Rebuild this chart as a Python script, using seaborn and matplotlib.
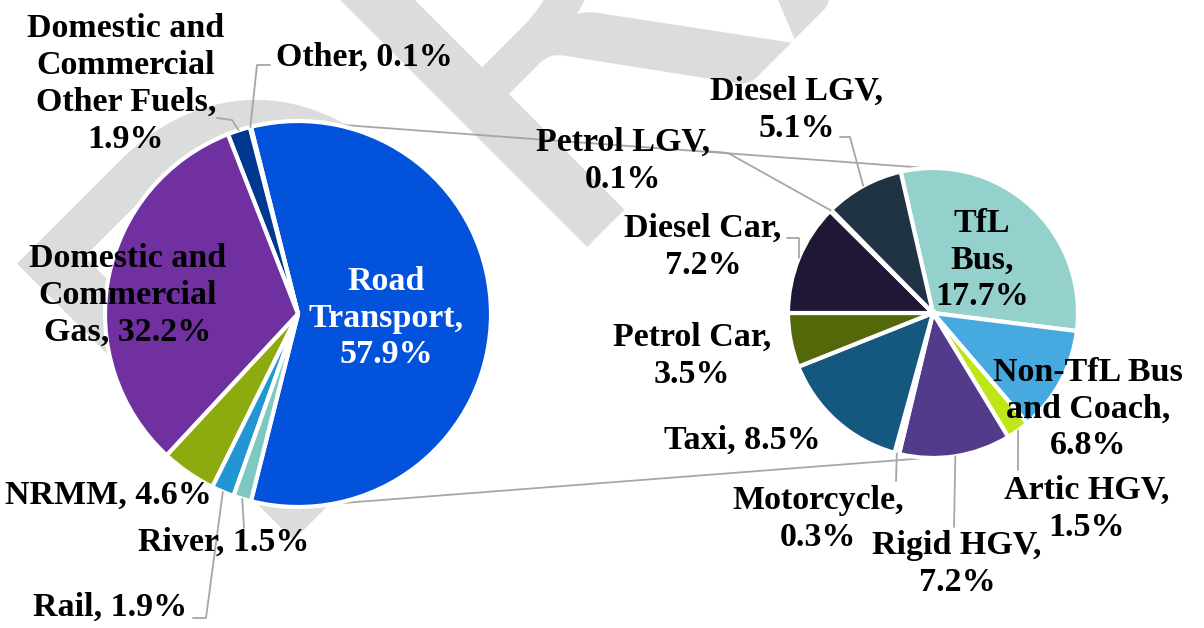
import matplotlib
matplotlib.use("Agg")
import matplotlib.pyplot as plt
import numpy as np
import seaborn as sns

# London emissions split (%), main pie
main_names = ["Road\nTransport", "Other", "Domestic and\nCommercial\nOther Fuels",
              "Domestic and\nCommercial\nGas", "NRMM", "Rail", "River"]
main_values = [57.9, 0.1, 1.9, 32.2, 4.6, 1.9, 1.5]
main_seps = [",\n", ", ", ",\n", ", ", ", ", ", ", ", "]
main_colors = ["#0352DC", "#1F4E79", "#00388F", "#7030A0", "#8DAB0F", "#2196D3", "#7DC8C0"]

# breakdown of road transport (%), secondary pie
road_names = ["TfL\nBus", "Non-TfL Bus\nand Coach", "Artic HGV", "Rigid HGV", "Motorcycle",
              "Taxi", "Petrol Car", "Diesel Car", "Petrol LGV", "Diesel LGV"]
road_values = [17.7, 6.8, 1.5, 7.2, 0.3, 8.5, 3.5, 7.2, 0.1, 5.1]
road_seps = [",\n", ",\n", ",\n", ",\n", ",\n", ", ", ",\n", ",\n", ",\n", ",\n"]
road_colors = ["#94D1CC", "#46AAE1", "#BFE616", "#523B8A", "#A6A6A6",
               "#14587F", "#536808", "#201736", "#7F7F7F", "#203344"]

W, H = 1204, 628
def px(x, y):
    # picture coords (origin top-left) -> data coords
    return x, H - y

sns.set_theme(style="white")
plt.rcParams["font.family"] = ["Liberation Serif", "DejaVu Serif"]

fig = plt.figure(figsize=(W / 100, H / 100), dpi=100)
ax = fig.add_axes([0, 0, 1, 1])

# DRAFT watermark
ax.text(*px(244, 540), "DRAFT", rotation=45, rotation_mode="anchor", ha="left", va="baseline",
        fontsize=393, color="#DCDCDC", family=["Lato", "DejaVu Sans"], fontweight="normal", zorder=0)

wedge_kw = dict(edgecolor="white", linewidth=3)
left_wedges, _ = ax.pie(main_values, colors=sns.color_palette(main_colors), center=px(298, 314),
                        radius=193, startangle=-main_values[0] / sum(main_values) * 180,
                        counterclock=True, wedgeprops=wedge_kw)
right_wedges, _ = ax.pie(road_values, colors=sns.color_palette(road_colors), center=px(933, 313),
                         radius=145, startangle=102.9, counterclock=False, wedgeprops=wedge_kw)

def edge_point(wedge, ang=None):
    if ang is None:
        ang = (wedge.theta1 + wedge.theta2) / 2
    cx, cy = wedge.center
    a = np.deg2rad(ang)
    return cx + wedge.r * np.cos(a), cy + wedge.r * np.sin(a)

grey = "#A6A6A6"
# connector lines between the pies
for la, ra in [(79.5, 92), (-79.5, -92)]:
    p1 = edge_point(left_wedges[0], la)
    p2 = edge_point(right_wedges[0], ra)
    ax.plot([p1[0], p2[0]], [p1[1], p2[1]], color=grey, lw=1.3, zorder=0.5)

lbl_kw = dict(ha="center", va="center", fontsize=24.5, fontweight="bold", linespacing=1.24, zorder=5)

main_pos = [(386, 318), (364, 57), (126, 84), (128, 295), (108, 495), (110, 607), (224, 542)]
for name, v, sep, pos, i in zip(main_names, main_values, main_seps, main_pos, range(len(main_names))):
    ax.text(*px(*pos), f"{name}{sep}{v}%", color="white" if i == 0 else "black", **lbl_kw)

road_pos = [(982, 260), (1088, 409), (1087, 509), (957, 564), (818, 519),
            (742, 440), (692, 356), (703, 247), (623, 161), (797, 110)]
for name, v, sep, pos in zip(road_names, road_values, road_seps, road_pos):
    ax.text(*px(*pos), f"{name}{sep}{v}%", color="black", **lbl_kw)

# leader lines: (wedges, index, points near the label)
leaders = [
    (left_wedges, 1, [(270, 65), (257, 65)]),
    (left_wedges, 2, [(217, 118), (232, 120)]),
    (left_wedges, 5, [(193, 618), (206, 618)]),
    (left_wedges, 6, [(244, 528)]),
    (right_wedges, 9, [(840, 137), (850, 137)]),
    (right_wedges, 8, [(706, 151), (728, 153)]),
    (right_wedges, 7, [(787, 238), (799, 238)]),
    (right_wedges, 4, [(896, 481)]),
    (right_wedges, 3, [(954, 527)]),
    (right_wedges, 2, [(1018, 470)]),
]
for wedges, idx, pts in leaders:
    xs = [px(*p)[0] for p in pts]
    ys = [px(*p)[1] for p in pts]
    ex, ey = edge_point(wedges[idx])
    ax.plot(xs + [ex], ys + [ey], color=grey, lw=1.3, zorder=4)

ax.set_xlim(0, W)
ax.set_ylim(0, H)
ax.set_aspect("equal")
ax.axis("off")
fig.savefig("out.png", dpi=100, facecolor="white")
